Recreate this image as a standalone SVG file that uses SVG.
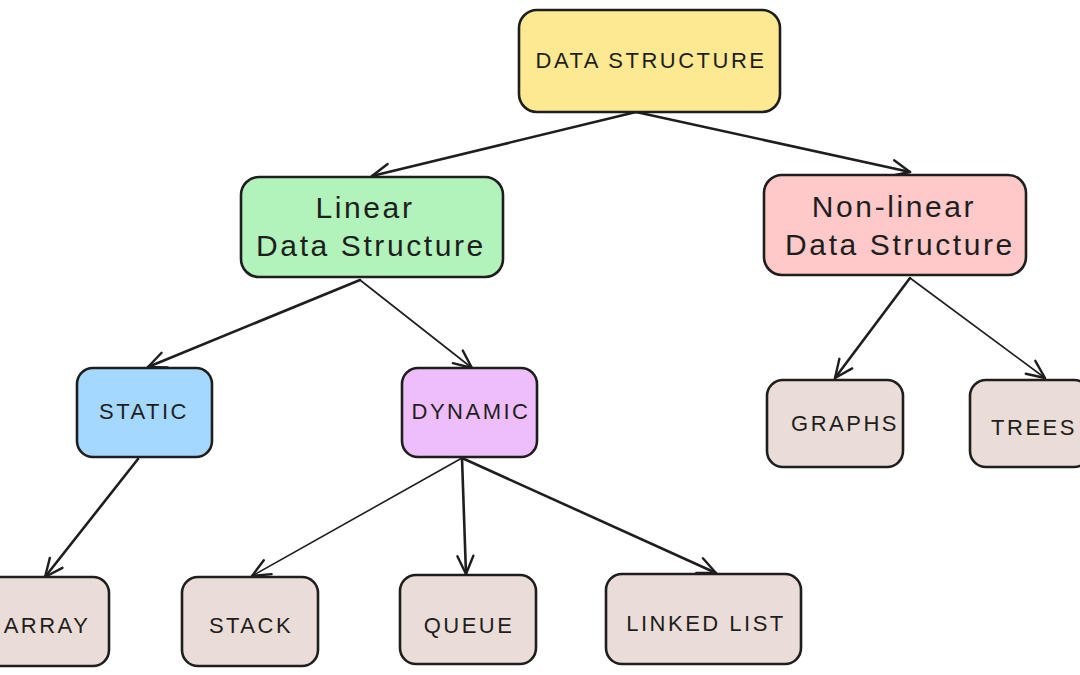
<svg xmlns="http://www.w3.org/2000/svg" width="1080" height="675" viewBox="0 0 1080 675">
<style>
.box{stroke:#1e1e1e;stroke-width:2.6;stroke-linejoin:round}
.t{font-family:"Liberation Sans","DejaVu Sans",sans-serif;fill:#1e1e1e;text-anchor:middle;dominant-baseline:central}
.caps{font-size:22px;letter-spacing:2.5px}
.big{font-size:30px;letter-spacing:2.6px}
.c{stroke:#1e1e1e;fill:none;stroke-linecap:round}
.thick{stroke-width:2.6}
.thin{stroke-width:1.6}
.leaf{fill:#eaddd7}
</style>
<defs>
<marker id="ah" viewBox="0 0 22 22" refX="20" refY="11" markerWidth="22" markerHeight="22" markerUnits="userSpaceOnUse" orient="auto">
<path d="M2,3 L20,11 L2,19" fill="none" stroke="#1e1e1e" stroke-width="2.4" stroke-linecap="round" stroke-linejoin="round"/>
</marker>
</defs>
<rect width="1080" height="675" fill="#ffffff"/>
<g id="connectors">
<line class="c thick" x1="636" y1="112" x2="372" y2="176" marker-end="url(#ah)"/>
<line class="c thick" x1="636" y1="112" x2="910" y2="172" marker-end="url(#ah)"/>
<line class="c thick" x1="360" y1="280" x2="148" y2="367" marker-end="url(#ah)"/>
<line class="c thin" x1="360" y1="280" x2="472" y2="368" marker-end="url(#ah)"/>
<line class="c thick" x1="138" y1="459" x2="45" y2="577" marker-end="url(#ah)"/>
<line class="c thin" x1="462" y1="458" x2="252" y2="576" marker-end="url(#ah)"/>
<line class="c thick" x1="462" y1="458" x2="466" y2="574" marker-end="url(#ah)"/>
<line class="c thick" x1="462" y1="458" x2="716" y2="573" marker-end="url(#ah)"/>
<line class="c thick" x1="910" y1="278" x2="835" y2="378" marker-end="url(#ah)"/>
<line class="c thin" x1="910" y1="278" x2="1045" y2="378" marker-end="url(#ah)"/>
</g>
<g id="data-structure">
<rect class="box" x="519" y="10" width="261" height="102" rx="18" fill="#fde992"/>
<text class="t caps" x="651" y="60">DATA STRUCTURE</text>
</g>
<g id="linear">
<rect class="box" x="241" y="177" width="262" height="100" rx="18" fill="#b2f2bb"/>
<text class="t big" x="365" y="207">Linear</text>
<text class="t big" x="371" y="245">Data Structure</text>
</g>
<g id="non-linear">
<rect class="box" x="764" y="175" width="262" height="100" rx="18" fill="#ffc9c9"/>
<text class="t big" x="894" y="206">Non-linear</text>
<text class="t big" x="900" y="244">Data Structure</text>
</g>
<g id="static">
<rect class="box" x="77" y="368" width="135" height="89" rx="16" fill="#a5d8ff"/>
<text class="t caps" x="144" y="411">STATIC</text>
</g>
<g id="dynamic">
<rect class="box" x="402" y="368" width="135" height="89" rx="16" fill="#eebefa"/>
<text class="t caps" x="471" y="411">DYNAMIC</text>
</g>
<g id="graphs">
<rect class="box leaf" x="767" y="380" width="136" height="87" rx="16"/>
<text class="t caps" x="845" y="423">GRAPHS</text>
</g>
<g id="trees">
<rect class="box leaf" x="970" y="380" width="120" height="87" rx="16"/>
<text class="t caps" x="1034" y="427">TREES</text>
</g>
<g id="array">
<rect class="box leaf" x="-15" y="577" width="124" height="89" rx="16"/>
<text class="t caps" x="47" y="625">ARRAY</text>
</g>
<g id="stack">
<rect class="box leaf" x="182" y="577" width="136" height="89" rx="16"/>
<text class="t caps" x="251" y="625">STACK</text>
</g>
<g id="queue">
<rect class="box leaf" x="400" y="575" width="136" height="89" rx="16"/>
<text class="t caps" x="469" y="625">QUEUE</text>
</g>
<g id="linked-list">
<rect class="box leaf" x="606" y="574" width="195" height="90" rx="16"/>
<text class="t caps" x="706" y="623">LINKED LIST</text>
</g>
</svg>
